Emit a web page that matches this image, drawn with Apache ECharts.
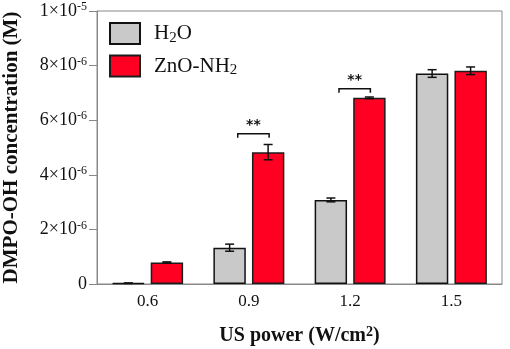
<!DOCTYPE html>
<html>
<head>
<meta charset="utf-8">
<script src="https://cdn.jsdelivr.net/npm/echarts@6/dist/echarts.min.js"></script>
<style>
  html, body { margin: 0; padding: 0; background: #fff; }
  #chart { width: 510px; height: 349px; }
</style>
</head>
<body>
<div id="chart"></div>
<script>
// data
const categories = ['0.6', '0.9', '1.2', '1.5'];
const h2oValues = [0.03e-6, 1.33e-6, 3.08e-6, 7.71e-6];
const h2oErrors = [0.01e-6, 0.13e-6, 0.07e-6, 0.14e-6];
const znoValues = [0.79e-6, 4.83e-6, 6.82e-6, 7.81e-6];
const znoErrors = [0.02e-6, 0.28e-6, 0.03e-6, 0.14e-6];
// significance brackets: category index, bracket level
const sigBrackets = [[1, 5.5e-6], [2, 7.15e-6]];
const yTickLabels = ['0', '2×10{s|-6}', '4×10{s|-6}', '6×10{s|-6}', '8×10{s|-6}', '1×10{s|-5}'];

const FONT = 'Liberation Serif';
const BAR_SHIFT = 0.19; // bar centre offset as fraction of band

const chart = echarts.init(document.getElementById('chart'));

function errorBars(values, errors, side) {
  return {
    type: 'custom',
    silent: true,
    z: 5,
    data: values.map((v, i) => [i, v, errors[i]]),
    renderItem: function (params, api) {
      const i = api.value(0), v = api.value(1), e = api.value(2);
      const band = api.size([1, 0])[0];
      const c = api.coord([i, v]);
      const x = c[0] + side * band * BAR_SHIFT;
      const yTop = api.coord([i, v + e])[1];
      const yBot = api.coord([i, v - e])[1];
      const cap = 4.5;
      const style = { stroke: '#111', lineWidth: 1.5, fill: null };
      return {
        type: 'group',
        children: [
          { type: 'line', shape: { x1: x, y1: yTop, x2: x, y2: yBot }, style: style },
          { type: 'line', shape: { x1: x - cap, y1: yTop, x2: x + cap, y2: yTop }, style: style },
          { type: 'line', shape: { x1: x - cap, y1: yBot, x2: x + cap, y2: yBot }, style: style }
        ]
      };
    }
  };
}

const option = {
  backgroundColor: '#fff',
  animation: false,
  grid: {
    left: 97,
    right: 8,
    top: 11,
    bottom: 65,
    outerBoundsMode: 'none',
    show: true,
    borderColor: '#888',
    borderWidth: 1
  },
  legend: {
    orient: 'vertical',
    left: 104,
    top: 17,
    icon: 'rect',
    itemWidth: 30,
    itemHeight: 21,
    itemGap: 9,
    data: ['H2O', 'ZnO-NH2'],
    formatter: function (name) {
      return name === 'H2O' ? 'H{sub|2}O' : 'ZnO-NH{sub|2}';
    },
    textStyle: {
      fontFamily: FONT,
      fontSize: 21,
      color: '#111',
      padding: [0, 0, 0, 9],
      rich: {
        sub: { fontFamily: FONT, fontSize: 15, color: '#111', verticalAlign: 'bottom', padding: [9, 0, 0, 0] }
      }
    }
  },
  xAxis: {
    type: 'category',
    data: categories,
    name: 'US power (W/cm{s|2})',
    nameLocation: 'middle',
    nameGap: 41,
    nameTextStyle: {
      fontFamily: FONT,
      fontSize: 20,
      fontWeight: 'bold',
      color: '#111',
      rich: {
        s: { fontFamily: FONT, fontSize: 14, fontWeight: 'bold', color: '#111', verticalAlign: 'top', padding: [0, 0, 8, 0] }
      }
    },
    axisLine: { lineStyle: { color: '#888', width: 1 } },
    axisTick: { alignWithLabel: true, length: 5, lineStyle: { color: '#888' } },
    axisLabel: { fontFamily: FONT, fontSize: 17, color: '#111', margin: 9 }
  },
  yAxis: {
    type: 'value',
    min: 0,
    max: 1e-5,
    interval: 2e-6,
    name: 'DMPO-OH concentration (M)',
    nameLocation: 'middle',
    nameGap: 75,
    nameTextStyle: { fontFamily: FONT, fontSize: 21, fontWeight: 'bold', color: '#111' },
    splitLine: { show: false },
    axisLine: { show: true, lineStyle: { color: '#888', width: 1 } },
    axisTick: { show: true, length: 8, lineStyle: { color: '#888' } },
    axisLabel: {
      fontFamily: FONT,
      fontSize: 18,
      color: '#111',
      margin: 10,
      formatter: function (value) {
        return yTickLabels[Math.round(value / 2e-6)];
      },
      rich: {
        s: { fontFamily: FONT, fontSize: 12, color: '#111', verticalAlign: 'top', padding: [0, 0, 8, 0] }
      }
    }
  },
  series: [
    {
      name: 'H2O',
      type: 'bar',
      data: h2oValues,
      barWidth: '32%',
      barGap: '19%',
      itemStyle: { color: '#c9c9c9', borderColor: '#111', borderWidth: 1.5 }
    },
    {
      name: 'ZnO-NH2',
      type: 'bar',
      data: znoValues,
      barWidth: '32%',
      barGap: '19%',
      itemStyle: { color: '#ff0022', borderColor: '#1c1c1c', borderWidth: 1.5 }
    },
    errorBars(h2oValues, h2oErrors, -1),
    errorBars(znoValues, znoErrors, 1),
    {
      type: 'custom',
      silent: true,
      z: 6,
      data: sigBrackets,
      renderItem: function (params, api) {
        const i = api.value(0), lvl = api.value(1);
        const band = api.size([1, 0])[0];
        const c = api.coord([i, lvl]);
        const x1 = c[0] - band * 0.11;
        const x2 = c[0] + band * 0.2;
        const y = c[1];
        return {
          type: 'group',
          children: [
            {
              type: 'polyline',
              shape: { points: [[x1, y + 4], [x1, y], [x2, y], [x2, y + 4]] },
              style: { stroke: '#111', lineWidth: 1.5, fill: null }
            },
            {
              type: 'text',
              style: {
                x: (x1 + x2) / 2,
                y: y - 1,
                text: '**',
                align: 'center',
                verticalAlign: 'bottom',
                font: 'bold 14px DejaVu Sans',
                fill: '#111'
              }
            }
          ]
        };
      }
    }
  ]
};

chart.setOption(option);
</script>
</body>
</html>
